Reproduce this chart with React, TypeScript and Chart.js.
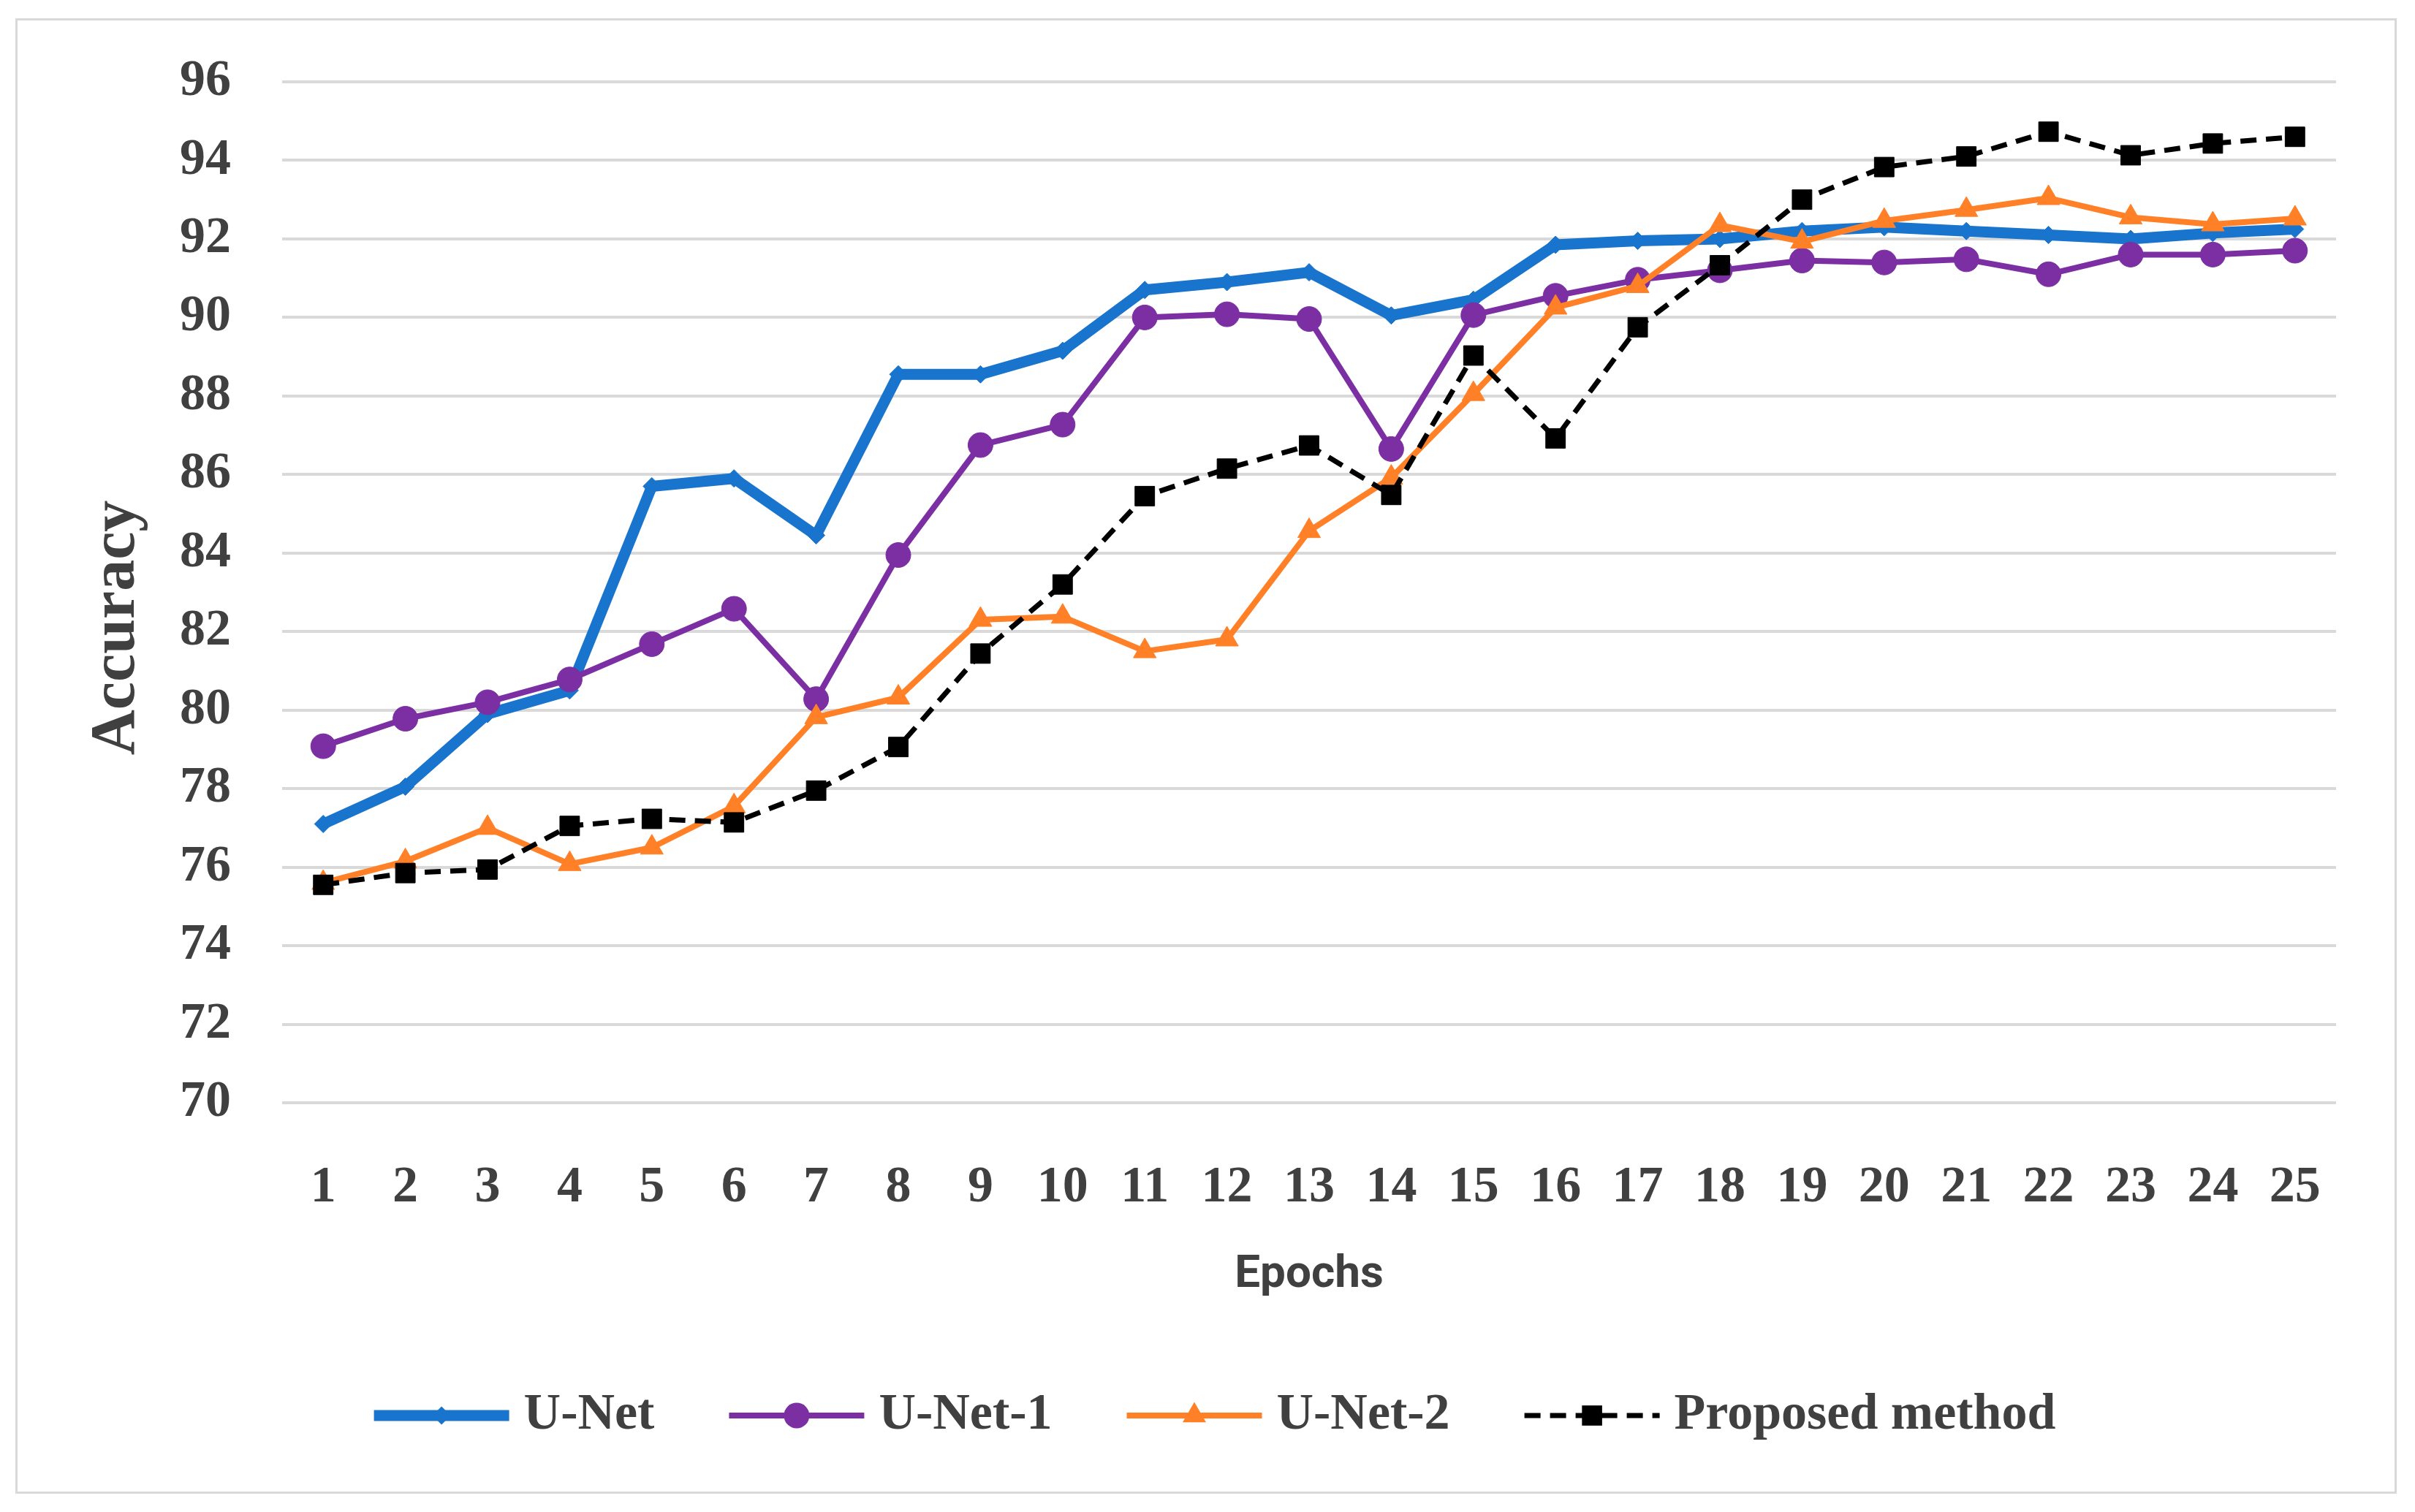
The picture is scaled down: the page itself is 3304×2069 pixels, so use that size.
import React, { useEffect, useRef } from 'react';
import { Chart, registerables } from 'chart.js';

Chart.register(...registerables);

// ---------- data ----------
const epochs = ['1', '2', '3', '4', '5', '6', '7', '8', '9', '10', '11', '12', '13', '14', '15', '16', '17', '18', '19', '20', '21', '22', '23', '24', '25'];
const unet = [77.1, 78.05, 79.9, 80.5, 85.7, 85.9, 84.45, 88.55, 88.55, 89.15, 90.7, 90.9, 91.15, 90.05, 90.45, 91.85, 91.95, 92.0, 92.2, 92.3, 92.2, 92.1, 92.0, 92.15, 92.25];
const unet1 = [79.08, 79.78, 80.2, 80.78, 81.68, 82.58, 80.28, 83.95, 86.75, 87.27, 90.0, 90.08, 89.96, 86.65, 90.06, 90.55, 90.96, 91.2, 91.45, 91.4, 91.48, 91.1, 91.6, 91.6, 91.7];
const unet2 = [75.6, 76.15, 77.0, 76.08, 76.5, 77.55, 79.82, 80.32, 82.3, 82.38, 81.5, 81.8, 84.56, 85.92, 88.05, 90.25, 90.8, 92.35, 91.93, 92.46, 92.74, 93.04, 92.55, 92.37, 92.52];
const proposed = [75.55, 75.85, 75.94, 77.05, 77.23, 77.14, 77.95, 79.06, 81.44, 83.2, 85.45, 86.15, 86.74, 85.48, 89.03, 86.92, 89.75, 91.33, 93.0, 93.83, 94.1, 94.73, 94.13, 94.43, 94.6];
const seriesNames = ['U-Net', 'U-Net-1', 'U-Net-2', 'Proposed method'];
const yMin = 70;
const yMax = 96;
const yStep = 2;
const xTitle = 'Epochs';
const yTitle = 'Accuracy';

// ---------- styles ----------
const W = 3304;
const H = 2069;
const TEXT = '#404040';
const GRID = '#d9d9d9';
const BLUE = '#1874CD';
const PURPLE = '#7B2FA3';
const ORANGE = '#FF8026';
const BLACK = '#000000';
const SERIF = '"Liberation Serif", "DejaVu Serif", serif';

function drawMarker(ctx: CanvasRenderingContext2D, style: string, x: number, y: number, r: number, color: string) {
  ctx.save();
  ctx.fillStyle = color;
  ctx.beginPath();
  if (style === 'circle') {
    ctx.arc(x, y, r, 0, Math.PI * 2);
  } else if (style === 'rectRot') {
    ctx.moveTo(x - r, y);
    ctx.lineTo(x, y - r);
    ctx.lineTo(x + r, y);
    ctx.lineTo(x, y + r);
    ctx.closePath();
  } else if (style === 'triangle') {
    let rad = 0;
    ctx.moveTo(x + Math.sin(rad) * r, y - Math.cos(rad) * r);
    rad += (2 * Math.PI) / 3;
    ctx.lineTo(x + Math.sin(rad) * r, y - Math.cos(rad) * r);
    rad += (2 * Math.PI) / 3;
    ctx.lineTo(x + Math.sin(rad) * r, y - Math.cos(rad) * r);
    ctx.closePath();
  } else {
    const s = Math.SQRT1_2 * r;
    ctx.rect(x - s, y - s, 2 * s, 2 * s);
  }
  ctx.fill();
  ctx.restore();
}

const annotatePlugin = {
  id: 'annotate',
  afterDraw(chart: any) {
    const ctx: CanvasRenderingContext2D = chart.ctx;
    // y-axis title
    ctx.save();
    ctx.font = `bold 86px ${SERIF}`;
    ctx.fillStyle = TEXT;
    ctx.translate(183, 859);
    ctx.rotate(-Math.PI / 2);
    ctx.textAlign = 'center';
    ctx.textBaseline = 'alphabetic';
    ctx.fillText(yTitle, 0, 0);
    ctx.restore();

    // legend
    ctx.save();
    ctx.font = `bold 70px ${SERIF}`;
    const lineLen = 185;
    const gapText = 20;
    const gapItem = 102;
    const ly = 1937;
    const dsets = chart.data.datasets;
    const widths = dsets.map((d: any) => ctx.measureText(d.label).width);
    let total = 0;
    widths.forEach((w: number, i: number) => {
      total += lineLen + gapText + w + (i < widths.length - 1 ? gapItem : 0);
    });
    let x = 1662 - total / 2;
    dsets.forEach((d: any, i: number) => {
      ctx.save();
      ctx.strokeStyle = d.borderColor;
      ctx.lineWidth = d.borderWidth;
      ctx.setLineDash(d.borderDash || []);
      ctx.lineCap = 'butt';
      ctx.beginPath();
      ctx.moveTo(x, ly);
      ctx.lineTo(x + lineLen, ly);
      ctx.stroke();
      ctx.restore();
      drawMarker(ctx, d.pointStyle, x + lineLen / 2, ly, d.pointRadius + (d.pointBorderWidth || 0) / 2, d.pointBackgroundColor);
      ctx.fillStyle = TEXT;
      ctx.textAlign = 'left';
      ctx.textBaseline = 'middle';
      ctx.fillText(d.label, x + lineLen + gapText, ly);
      x += lineLen + gapText + widths[i] + gapItem;
    });
    ctx.restore();
  },
};

export default function App() {
  const canvasRef = useRef<HTMLCanvasElement | null>(null);

  useEffect(() => {
    if (!canvasRef.current) return;
    const chart = new Chart(canvasRef.current, {
      type: 'line',
      data: {
        labels: epochs,
        datasets: [
          {
            label: seriesNames[0],
            data: unet,
            borderColor: BLUE,
            backgroundColor: BLUE,
            borderWidth: 15,
            borderJoinStyle: 'round',
            pointStyle: 'rectRot',
            pointRadius: 12,
            pointBorderWidth: 1,
            pointBackgroundColor: BLUE,
            pointBorderColor: BLUE,
            tension: 0,
            order: 4,
          },
          {
            label: seriesNames[1],
            data: unet1,
            borderColor: PURPLE,
            backgroundColor: PURPLE,
            borderWidth: 8,
            borderJoinStyle: 'round',
            pointStyle: 'circle',
            pointRadius: 17,
            pointBorderWidth: 1,
            pointBackgroundColor: PURPLE,
            pointBorderColor: PURPLE,
            tension: 0,
            order: 3,
          },
          {
            label: seriesNames[2],
            data: unet2,
            borderColor: ORANGE,
            backgroundColor: ORANGE,
            borderWidth: 8,
            borderJoinStyle: 'round',
            pointStyle: 'triangle',
            pointRadius: 18,
            pointBorderWidth: 1,
            pointBackgroundColor: ORANGE,
            pointBorderColor: ORANGE,
            tension: 0,
            order: 2,
          },
          {
            label: seriesNames[3],
            data: proposed,
            borderColor: BLACK,
            backgroundColor: BLACK,
            borderWidth: 7,
            borderDash: [22, 13],
            borderCapStyle: 'butt',
            pointStyle: 'rect',
            pointRadius: 19,
            pointBorderWidth: 1,
            pointBackgroundColor: BLACK,
            pointBorderColor: BLACK,
            tension: 0,
            order: 1,
          },
        ] as any,
      },
      options: {
        responsive: false,
        animation: false,
        devicePixelRatio: 1,
        layout: { padding: { left: 0, top: 110, right: W - 3196, bottom: 0 } },
        plugins: {
          legend: { display: false },
          tooltip: { enabled: false },
          title: { display: false },
        },
        scales: {
          x: {
            type: 'category',
            offset: true,
            grid: { display: false, drawTicks: false },
            border: { display: false },
            ticks: {
              color: TEXT,
              font: { family: SERIF, size: 70, weight: 'bold' },
              padding: 75,
              maxRotation: 0,
              autoSkip: false,
            },
            title: {
              display: true,
              text: xTitle,
              color: TEXT,
              font: { family: 'Roboto, "Liberation Sans", sans-serif', size: 62, weight: 'bold' },
              padding: { top: 0, bottom: 286 },
            },
            afterFit(scale: any) {
              scale.height = H - 1509;
            },
          },
          y: {
            min: yMin,
            max: yMax,
            grid: { color: GRID, lineWidth: 4, drawTicks: false },
            border: { display: false },
            ticks: {
              stepSize: yStep,
              color: TEXT,
              font: { family: SERIF, size: 70, weight: 'bold' },
              padding: 70,
            },
            afterFit(scale: any) {
              scale.width = 386;
            },
          },
        },
      } as any,
      plugins: [annotatePlugin],
    });
    return () => chart.destroy();
  }, []);

  return (
    <div style={{ position: 'absolute', left: 0, top: 0, width: W, height: H, background: '#ffffff', overflow: 'hidden' }}>
      <canvas ref={canvasRef} width={W} height={H} style={{ position: 'absolute', left: 0, top: 0, width: W, height: H }} />
      <div
        style={{
          position: 'absolute',
          left: 21,
          top: 25,
          width: 3258,
          height: 2019,
          border: `3px solid ${GRID}`,
          boxSizing: 'border-box',
          pointerEvents: 'none',
        }}
      />
    </div>
  );
}
